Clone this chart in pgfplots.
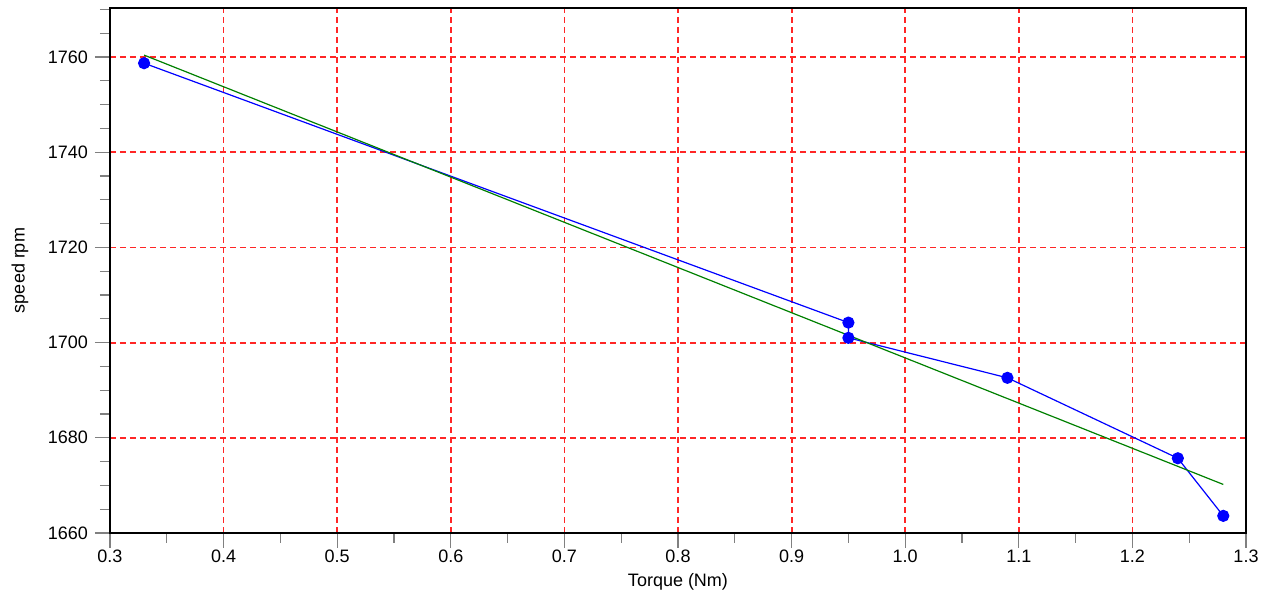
\documentclass[border=0pt]{standalone}
\usepackage{pgfplots}
\pgfplotsset{compat=1.18}
\usepackage{fontspec}
\setmainfont{Liberation Sans}
\definecolor{fitgreen}{RGB}{0,128,0}
\definecolor{gridred}{RGB}{255,0,0}
\begin{document}
\begin{tikzpicture}
\begin{axis}[
  scale only axis,
  width=568pt, height=262.5pt,
  xmin=0.3, xmax=1.3, ymin=1660, ymax=1770.3,
  xtick={0.3,0.4,0.5,0.6,0.7,0.8,0.9,1.0,1.1,1.2,1.3},
  ytick={1660,1680,1700,1720,1740,1760},
  minor xtick={0.35,0.45,0.55,0.65,0.75,0.85,0.95,1.05,1.15,1.25},
  minor ytick={1665,1670,1675,1685,1690,1695,1705,1710,1715,1725,1730,1735,1745,1750,1755,1765,1770},
  xtick pos=bottom, ytick pos=left,
  tick align=outside,
  major tick length=7.5pt, minor tick length=5pt,
  axis line style={line width=0.6pt},
  xmajorgrids=true, ymajorgrids=true,
  grid style={color=gridred!85, line width=0.9pt, dash pattern=on 3pt off 2pt},
  major tick style={line width=0.6pt},
  minor tick style={line width=0.6pt},
  /pgf/number format/assume math mode=true,
  xticklabel style={/pgf/number format/fixed, /pgf/number format/fixed zerofill, /pgf/number format/precision=1, font=\fontsize{9}{10}\selectfont, yshift=2.5pt},
  yticklabel style={/pgf/number format/set thousands separator={}, font=\fontsize{9}{10}\selectfont},
  xlabel={Torque (Nm)}, ylabel={speed rpm},
  label style={font=\fontsize{9}{10}\selectfont},
  xlabel style={at={(axis description cs:0.5,-0.093)}, anchor=center},
  ylabel style={at={(axis description cs:-0.0792,0.5)}, anchor=center},
]
\addplot[blue, line width=0.6pt, mark=*, mark size=2.75pt, mark options={fill=blue, draw=blue}] coordinates {
  (0.33,1758.7) (0.95,1704.2) (0.95,1701.0) (1.09,1692.6) (1.24,1675.7) (1.28,1663.6)
};
\addplot[fitgreen, line width=0.6pt] coordinates {
  (0.33,1760.4) (1.28,1670.2)
};
\coordinate (SW) at (rel axis cs:0,0);
\coordinate (NE) at (rel axis cs:1,1);
\end{axis}
\pgfresetboundingbox
\path ([shift={(-55pt,-32.5pt)}]SW) rectangle ([shift={(12pt,4pt)}]NE);
\end{tikzpicture}
\end{document}
